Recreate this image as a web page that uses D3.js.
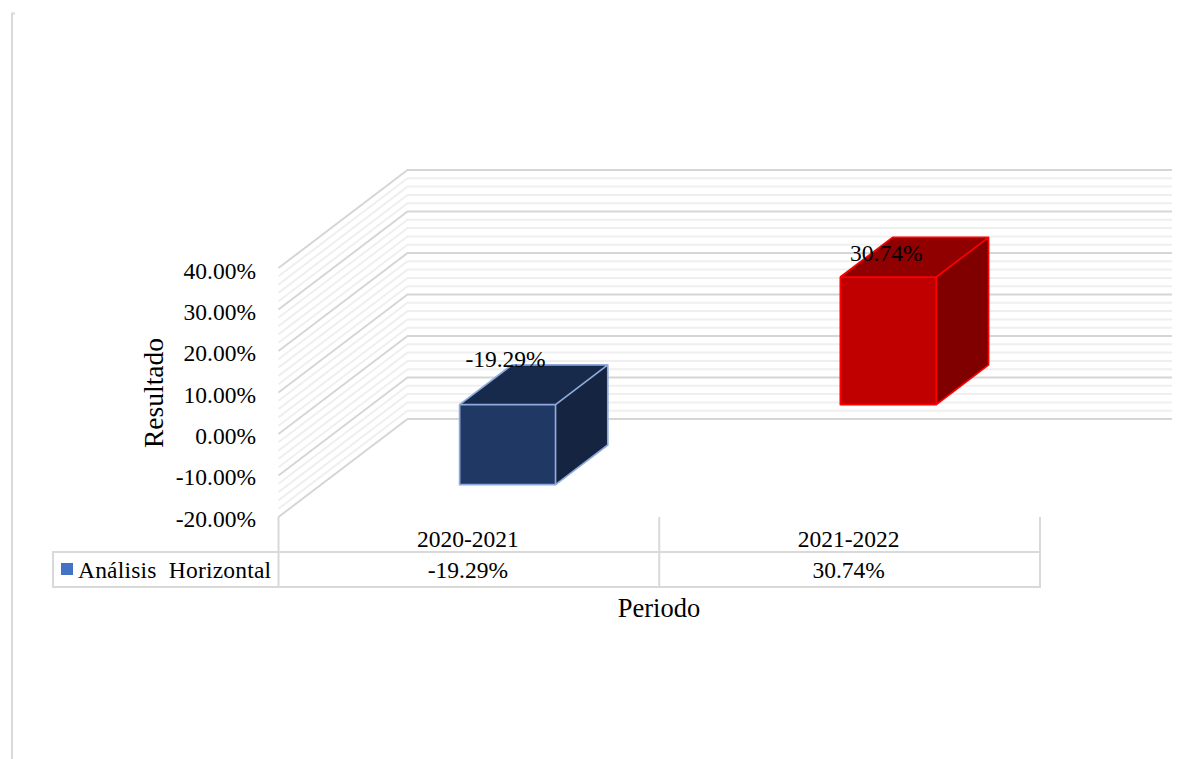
<!DOCTYPE html>
<html>
<head>
<meta charset="utf-8">
<script src="https://cdn.jsdelivr.net/npm/d3@7/dist/d3.min.js"></script>
<style>
	html, body { margin: 0; padding: 0; background: #fff; }
	svg { display: block; }
	text { font-family: "Liberation Serif", serif; fill: #000; }
</style>
</head>
<body>
<div id="chart"></div>
<script>
const categories = ['2020-2021', '2021-2022'];
const values = [-19.29, 30.74];
const seriesName = 'Análisis\u00a0\u00a0Horizontal';
const yTicks = [-20, -10, 0, 10, 20, 30, 40];
const yMinorTicks = [-20, -18, -16, -14, -12, -10, -8, -6, -4, -2, 0, 2, 4, 6, 8, 10, 12, 14, 16, 18, 20, 22, 24, 26, 28, 30, 32, 34, 36, 38, 40];
const barColors = [
	{ front: '#1f3864', top: '#172a4b', side: '#152440', stroke: '#8faadc' },
	{ front: '#c00000', top: '#900000', side: '#800000', stroke: '#ff0000' }
];

const width = 1189;
const height = 759;
const fmt = d => d.toFixed(2) + '%';

let svg = d3.select('#chart').append('svg')
	.attr('width', width)
	.attr('height', height);

let xScale = d3.scaleBand().domain(categories).range([278.5, 1040]);
let yScale = d3.scaleLinear().domain([-20, 40]).range([517, 268]);
// tick labels sit a little tighter than the gridlines
let yLabelScale = yScale.copy().range([518.5, 270.8]);
// the depth of the 3d box, 0 is the front plane and 1 the back wall
let depthX = d3.scaleLinear().domain([0, 1]).range([0, 129]);
let depthY = d3.scaleLinear().domain([0, 1]).range([0, -98]);
let wallRight = 1172;

// outer frame, only the left edge and a bit of the top show
svg.append('path')
	.attr('d', d3.line()([[15, 13.5], [12, 13.5], [12, height]]))
	.attr('fill', 'none')
	.attr('stroke', '#d9d9d9').attr('stroke-width', 2);

// gridlines on side wall and back wall
let gridPath = d => {
	let y = yScale(d);
	return d3.line()([
		[xScale.range()[0], y],
		[xScale.range()[0] + depthX(1), y + depthY(1)],
		[wallRight, y + depthY(1)]
	]);
};
svg.append('g').attr('class', 'grid-minor')
	.selectAll('path')
	.data(yMinorTicks.filter(d => d % 10 !== 0))
	.join('path')
	.attr('d', gridPath)
	.attr('fill', 'none')
	.attr('stroke', '#efefef')
	.attr('stroke-width', 2);
svg.append('g').attr('class', 'grid-major')
	.selectAll('path')
	.data(yTicks)
	.join('path')
	.attr('d', gridPath)
	.attr('fill', 'none')
	.attr('stroke', '#d6d6d6')
	.attr('stroke-width', 2);

// bars
let barFront = 0.3;
let barBack = 0.705;
let barWidth = xScale.bandwidth() * 0.252;
let bars = svg.append('g').attr('class', 'bars')
	.selectAll('g')
	.data(categories.map((c, i) => ({ cat: c, val: values[i], col: barColors[i] })))
	.join('g');

let corners = (d, depth) => {
	let x0 = xScale(d.cat) + (xScale.bandwidth() - barWidth) / 2 + depthX(depth);
	let yA = yScale(Math.max(d.val, 0)) + depthY(depth);
	let yB = yScale(Math.min(d.val, 0)) + depthY(depth);
	return { x0: x0, x1: x0 + barWidth, top: yA, bottom: yB };
};
let poly = pts => d3.line()(pts) + 'Z';

bars.append('path')
	.attr('d', d => {
		let f = corners(d, barFront), b = corners(d, barBack);
		return poly([[f.x0, f.top], [b.x0, b.top], [b.x1, b.top], [f.x1, f.top]]);
	})
	.attr('fill', d => d.col.top);
bars.append('path')
	.attr('d', d => {
		let f = corners(d, barFront), b = corners(d, barBack);
		return poly([[f.x1, f.top], [b.x1, b.top], [b.x1, b.bottom], [f.x1, f.bottom]]);
	})
	.attr('fill', d => d.col.side);
bars.append('path')
	.attr('d', d => {
		let f = corners(d, barFront);
		return poly([[f.x0, f.top], [f.x1, f.top], [f.x1, f.bottom], [f.x0, f.bottom]]);
	})
	.attr('fill', d => d.col.front);
// the light edges of the box
bars.append('path')
	.attr('d', d => {
		let f = corners(d, barFront), b = corners(d, barBack);
		return poly([[f.x0, f.top], [f.x1, f.top], [f.x1, f.bottom], [f.x0, f.bottom]])
			+ d3.line()([[f.x0, f.top], [b.x0, b.top], [b.x1, b.top], [b.x1, b.bottom], [f.x1, f.bottom]])
			+ d3.line()([[f.x1, f.top], [b.x1, b.top]]);
	})
	.attr('fill', 'none')
	.attr('stroke', d => d.col.stroke)
	.attr('stroke-width', 1.7)
	.attr('stroke-linejoin', 'round');

// data labels
bars.append('text')
	.attr('x', d => corners(d, barFront).x0 + barWidth / 2 - 2)
	.attr('y', d => d.val < 0 ? corners(d, barBack).top - 5.5 : corners(d, barBack).top + 16)
	.attr('dy', '0.32em')
	.attr('text-anchor', 'middle')
	.attr('font-size', '23.5px')
	.text(d => fmt(d.val));

// y axis labels
let yAxis = d3.axisLeft(yLabelScale).tickValues(yTicks).tickFormat(fmt).tickSize(0).tickPadding(0);
svg.append('g').attr('class', 'y axis')
	.attr('transform', 'translate(256,0)')
	.call(yAxis)
	.call(g => g.select('.domain').remove())
	.selectAll('text')
	.attr('font-family', '"Liberation Serif", serif')
	.attr('font-size', '23.5px');

// data table under the plot
let table = svg.append('g').attr('class', 'table')
	.attr('fill', 'none')
	.attr('stroke', '#d9d9d9')
	.attr('stroke-width', 2);
let tableTop = 552;
let tableBottom = 587;
let tableLeft = 53;
let splits = [xScale.range()[0]].concat(categories.map(c => xScale(c) + xScale.bandwidth()));
table.selectAll('line.v')
	.data(splits)
	.join('line')
	.attr('class', 'v')
	.attr('x1', d => d).attr('x2', d => d)
	.attr('y1', yScale(-20)).attr('y2', tableBottom);
table.selectAll('line.h')
	.data([tableTop, tableBottom])
	.join('line')
	.attr('class', 'h')
	.attr('x1', tableLeft).attr('x2', xScale.range()[1] + 1)
	.attr('y1', d => d).attr('y2', d => d);
table.append('line')
	.attr('x1', tableLeft).attr('x2', tableLeft)
	.attr('y1', tableTop - 1).attr('y2', tableBottom + 1);

// category row, through the band axis
let xAxis = d3.axisBottom(xScale).tickSize(0).tickPadding(0);
svg.append('g').attr('class', 'x axis')
	.attr('transform', 'translate(-1,530)')
	.call(xAxis)
	.call(g => g.select('.domain').remove())
	.selectAll('text')
	.attr('font-family', '"Liberation Serif", serif')
	.attr('font-size', '23.5px');

// value row
svg.append('g').attr('class', 'table-values')
	.selectAll('text')
	.data(values)
	.join('text')
	.attr('x', (d, i) => xScale(categories[i]) + xScale.bandwidth() / 2 - 1)
	.attr('y', 570)
	.attr('dy', '0.32em')
	.attr('text-anchor', 'middle')
	.attr('font-size', '23.5px')
	.text(fmt);

// legend key in the table
svg.append('rect')
	.attr('x', 61).attr('y', 563)
	.attr('width', 12).attr('height', 12)
	.attr('fill', '#4472c4');
svg.append('text')
	.attr('x', 78).attr('y', 570)
	.attr('dy', '0.32em')
	.attr('font-size', '23.5px')
	.attr('letter-spacing', '0.2px')
	.text(seriesName);

// axis titles
svg.append('text')
	.attr('transform', 'translate(154,393) rotate(-90)')
	.attr('dy', '0.32em')
	.attr('text-anchor', 'middle')
	.attr('font-size', '27.5px')
	.text('Resultado');
svg.append('text')
	.attr('x', 659).attr('y', 609)
	.attr('dy', '0.32em')
	.attr('text-anchor', 'middle')
	.attr('font-size', '26.5px')
	.text('Periodo');
</script>
</body>
</html>
